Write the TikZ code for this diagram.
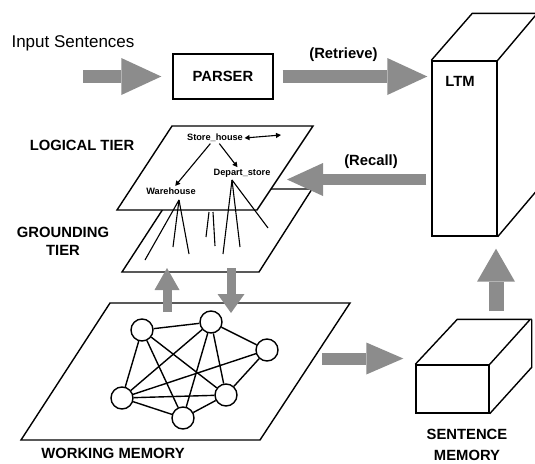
\documentclass[tikz,border=0pt]{standalone}
\usepackage{fontspec}
\setmainfont{Liberation Sans}
\usetikzlibrary{arrows.meta}

\begin{document}
\begin{tikzpicture}[x=1pt, y=-1pt, line width=1.4pt,
  tag/.style={font=\fontsize{14.8}{18}\selectfont\bfseries, align=center},
  word/.style={font=\fontsize{9.2}{11}\selectfont\bfseries, inner sep=1pt},
  fat/.style n args={3}{draw=black!45, line width=#1,
    -{Triangle[length=#2, width=#3, line width=0pt]}},
  unit/.style={circle, draw, fill=white, minimum size=22pt, inner sep=0pt},
  thin/.style={line width=1.1pt},
  tip/.style={-{Triangle[length=5pt, width=5pt]}}]

\useasboundingbox (0,0) rectangle (535,463);

\node[font=\fontsize{17}{20}\selectfont] (input) at (73,43.5) {Input Sentences};
\node[draw, tag, minimum width=100pt, minimum height=45pt] (parser) at (223,76.5) {PARSER};
\coordinate (in) at (83,76.5);
\draw[fat={13pt}{40pt}{37pt}, shorten >=11pt] (in) -- (parser.west);

\node[draw, minimum width=65pt, minimum height=175pt] (ltm) at (464.5,148.5) {};
\draw (ltm.north west) -- ++(41,-47) -- ++(65,0) -- (ltm.north east)
  (ltm.north east) ++(41,-47) -- ++(0,175) -- (ltm.south east);
\node[tag] (ltmname) at (460,81) {LTM};
\node[tag] (retrieve) at (343.5,55) {(Retrieve)};
\draw[fat={13pt}{40pt}{37pt}, shorten <=9pt, shorten >=4pt] (parser.east) -- (parser.east -| ltm.west);

\draw (176,189) -- (312,189) -- (259,272) -- (122,272) -- cycle;
\draw[fill=white] (172,126) -- (313,126) -- (257,210) -- (117,210) -- cycle;
\node[tag] (logical) at (82,145) {LOGICAL TIER};
\node[tag] (grounding) at (63,241) {GROUNDING\\TIER};

\coordinate (rl) at (287,179.5);
\node[tag] (recall) at (371,162) {(Recall)};
\draw[fat={11pt}{36pt}{33pt}, shorten <=5pt] (rl -| ltm.west) -- (rl);

\node[word] (store) at (215,138) {Store\_house};
\node[word] (ware) at (171,191) {Warehouse};
\node[word] (dept) at (242,173) {Depart\_store};
\coordinate (link) at (281,135);
\draw[thin, {Triangle[length=5pt, width=5pt]}-{Triangle[length=5pt, width=5pt]}] (store.east) -- (link);
\draw[thin, tip] (store) -- (ware);
\draw[thin, tip] (store) -- (dept);
\coordinate (wroot) at (179,200);
\coordinate (droot) at (232,180);
\foreach \x/\y in {145/260, 173/247, 189/254}
  \draw[thin] (wroot) -- (\x,\y);
\foreach \x/\y in {223/254, 240/247, 268/228}
  \draw[thin] (droot) -- (\x,\y);
\draw[thin] (209,212) -- (206,237) (213,212) -- (215,246);

\draw (110,303) -- (350,303) -- (260,440) -- (21,440) -- cycle;
\foreach \n/\x/\y in {1/142/330, 2/211/322, 3/267/350, 4/122/398, 5/226/395, 6/183/418}
  \node[unit] (c\n) at (\x,\y) {};
\foreach \a/\b in {1/2, 1/4, 1/5, 1/6, 2/3, 2/4, 2/5, 2/6, 3/4, 3/5, 4/5, 4/6, 5/6}
  \draw (c\a) -- (c\b);
\node[tag] (working) at (113,453) {WORKING MEMORY};

\coordinate (wmup) at (167,312);
\coordinate (gtup) at (167,268);
\coordinate (gtdn) at (231,268);
\coordinate (wmdn) at (231,313);
\draw[fat={9pt}{22pt}{25pt}] (wmup) -- (gtup);
\draw[fat={9pt}{19pt}{27pt}] (gtdn) -- (wmdn);

\node[draw, minimum width=73pt, minimum height=48pt] (smem) at (452.5,389) {};
\draw (smem.north west) -- ++(42,-45) -- ++(73,0) -- (smem.north east)
  (smem.north east) ++(42,-45) -- ++(0,48) -- (smem.south east);
\node[tag, font=\fontsize{14.8}{21}\selectfont\bfseries] (sentence) at (467,444.5) {SENTENCE\\MEMORY};

\coordinate (wmout) at (322,358.5);
\draw[fat={12pt}{37pt}{32pt}, shorten >=12pt] (wmout) -- (wmout -| smem.west);
\coordinate (smup) at (496,311);
\draw[fat={15pt}{33pt}{38pt}, shorten >=12pt] (smup) -- (smup |- ltm.south);
\end{tikzpicture}
\end{document}
